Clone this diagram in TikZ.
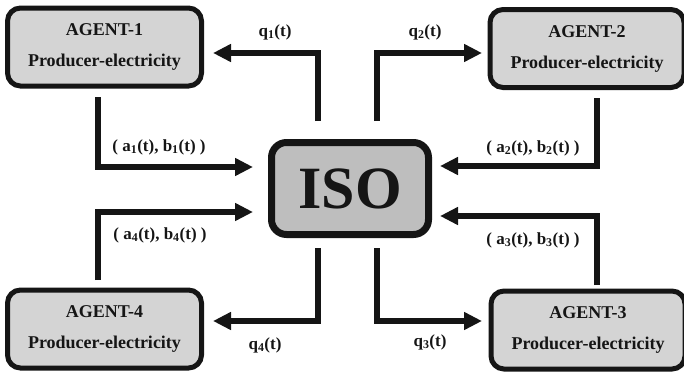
\documentclass[tikz,border=0pt]{standalone}
\usepackage{fontspec}
\setmainfont{Liberation Serif}
\usetikzlibrary{arrows.meta}
\definecolor{agentfill}{HTML}{D4D4D4}
\definecolor{isofill}{HTML}{BEBEBE}
\definecolor{ink}{HTML}{151515}
\begin{document}
\begin{tikzpicture}[x=1pt,y=-1pt,
  agentbox/.style={draw=ink, line width=5pt, fill=agentfill, rounded corners=13pt,
    minimum width=194pt, minimum height=78pt, inner sep=0pt, align=center,
    text=ink, font=\fontsize{18}{31}\selectfont\bfseries},
  isobox/.style={draw=ink, line width=7pt, fill=isofill, rounded corners=15pt,
    minimum width=157pt, minimum height=92pt, inner sep=0pt,
    text=ink, font=\fontsize{60}{60}\selectfont\bfseries},
  flow/.style={draw=ink, line width=6pt, -{Triangle[length=18pt,width=17pt]}},
  lbl/.style={text=ink, inner sep=0pt, font=\fontsize{17}{20}\selectfont\bfseries}
]
\useasboundingbox (0,0) rectangle (684,375);

\node[agentbox] (ag1) at (104.5,47) {AGENT-1\\Producer-electricity};
\node[agentbox] (ag2) at (587,48.5) {AGENT-2\\Producer-electricity};
\node[agentbox] (ag3) at (588,330) {AGENT-3\\Producer-electricity};
\node[agentbox] (ag4) at (104.5,329) {AGENT-4\\Producer-electricity};
\node[isobox] (iso) at (350,188.5) {ISO};

% connector end points
\coordinate (q1s) at (318,121);  \coordinate (q1e) at (213,53);
\coordinate (q2s) at (377,121);  \coordinate (q2e) at (482,53);
\coordinate (q3s) at (377,248);  \coordinate (q3e) at (482,321);
\coordinate (q4s) at (318,248);  \coordinate (q4e) at (213,321);
\coordinate (a1s) at (98,97);    \coordinate (a1e) at (253,167);
\coordinate (a2s) at (597,98);   \coordinate (a2e) at (440,166);
\coordinate (a3s) at (597,285);  \coordinate (a3e) at (440,216);
\coordinate (a4s) at (98,280);   \coordinate (a4e) at (253,212);

\draw[flow] (q1s) |- (q1e);
\draw[flow] (q2s) |- (q2e);
\draw[flow] (q3s) |- (q3e);
\draw[flow] (q4s) |- (q4e);
\draw[flow] (a1s) |- (a1e);
\draw[flow] (a2s) |- (a2e);
\draw[flow] (a3s) |- (a3e);
\draw[flow] (a4s) |- (a4e);

\node[lbl] (lq1) at (275,32) {q\textsubscript{1}(t)};
\node[lbl] (lq2) at (425,32) {q\textsubscript{2}(t)};
\node[lbl] (lq3) at (430,342) {q\textsubscript{3}(t)};
\node[lbl] (lq4) at (265,345) {q\textsubscript{4}(t)};
\node[lbl] (la1) at (159,147) {( a\textsubscript{1}(t), b\textsubscript{1}(t) )};
\node[lbl] (la2) at (533,148) {( a\textsubscript{2}(t), b\textsubscript{2}(t) )};
\node[lbl] (la3) at (533,240) {( a\textsubscript{3}(t), b\textsubscript{3}(t) )};
\node[lbl] (la4) at (160,235) {( a\textsubscript{4}(t), b\textsubscript{4}(t) )};
\end{tikzpicture}
\end{document}
